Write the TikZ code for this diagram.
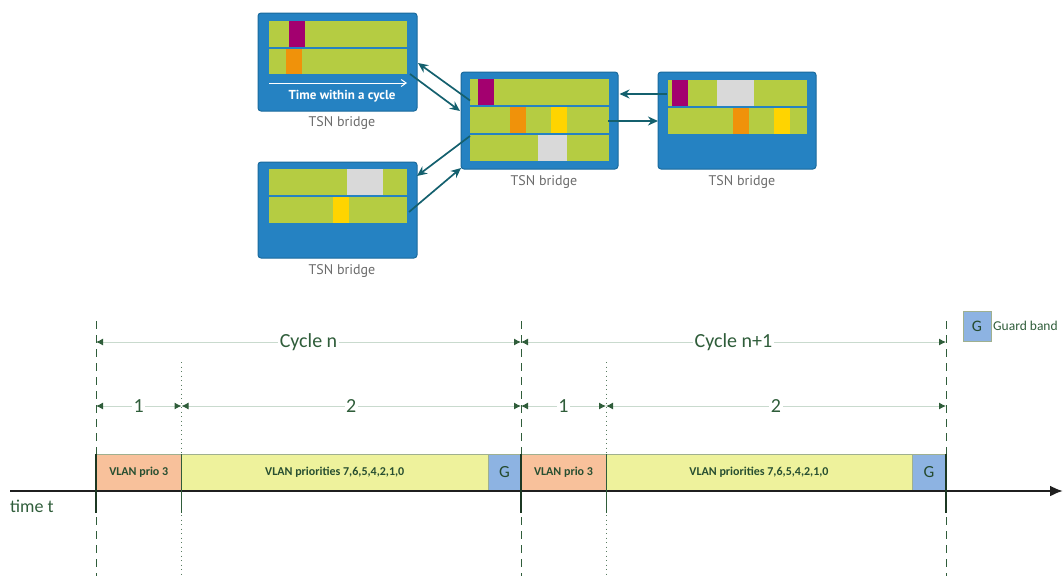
\documentclass[tikz,border=0pt]{standalone}
\usepackage{fontspec}
\setmainfont{Carlito}
\newfontfamily\ptsans{PT Sans}
\usetikzlibrary{arrows.meta}
\definecolor{boxblue}{HTML}{2582C2}
\definecolor{boxedge}{HTML}{1A6A9C}
\definecolor{slotgreen}{HTML}{B5CC42}
\definecolor{slotmag}{HTML}{A3006F}
\definecolor{slotorange}{HTML}{F0920A}
\definecolor{slotyellow}{HTML}{FFD400}
\definecolor{slotgrey}{HTML}{D9D9D9}
\definecolor{linkteal}{HTML}{14606E}
\definecolor{labelgrey}{HTML}{6B6B6B}
\definecolor{dkgreen}{HTML}{2F5D3A}
\definecolor{dimpale}{HTML}{C9DACE}
\definecolor{prioorange}{HTML}{F8C19B}
\definecolor{prioyellow}{HTML}{EEF29C}
\definecolor{guardblue}{HTML}{8DB3E2}
\definecolor{baredge}{HTML}{9FB08F}
\tikzset{
  bridge/.style={draw=boxedge, line width=1pt, fill=boxblue, rounded corners=3pt, inner sep=0pt},
  bridgelabel/.style={font=\ptsans\fontsize{14}{16}\selectfont, text=labelgrey, inner sep=0pt},
  link/.style={draw=linkteal, line width=1.7pt, -{Stealth[length=10pt,width=9pt]}},
  cyclediv/.style={draw=dkgreen, line width=1pt, dash pattern=on 8pt off 6pt},
  phasediv/.style={draw=dkgreen!80, line width=0.9pt, dash pattern=on 1pt off 3.5pt},
  tick/.style={draw=dkgreen!60!black, line width=1.4pt},
  thintick/.style={draw=dkgreen, line width=0.8pt},
  dim/.style={draw=dimpale, line width=1pt,
    {Latex[length=7pt,width=7pt,color=dkgreen]}-{Latex[length=7pt,width=7pt,color=dkgreen]}},
  dimlabel/.style={fill=white, inner sep=1.5pt, text=dkgreen, font=\fontsize{20}{24}\selectfont},
  bar/.style={draw=baredge, line width=0.6pt, inner sep=0pt},
  bartext/.style={text=dkgreen!85!black, font=\bfseries\fontsize{12}{14}\selectfont},
  gtext/.style={text=dkgreen!80!black, font=\fontsize{17}{20}\selectfont}
}
\begin{document}
\begin{tikzpicture}[x=1pt, y=-1pt]
\useasboundingbox (0,0) rectangle (1063,576);

% ---------------- bridges ----------------
\node[bridge, minimum width=159pt, minimum height=98pt] (A) at (337.5,62) {};
\node[bridge, minimum width=159pt, minimum height=96pt] (B) at (337.5,210) {};
\node[bridge, minimum width=157pt, minimum height=97pt] (C) at (539.5,120.5) {};
\node[bridge, minimum width=158pt, minimum height=97pt] (D) at (737,120.5) {};

% gate schedules of bridge A
\fill[slotgreen] (269,21) rectangle (407,47);
\fill[slotgreen] (269,49) rectangle (407,74);
\fill[slotmag] (289,21) rectangle (305,47);
\fill[slotorange] (286,49) rectangle (302,74);
\coordinate (tA) at (269,83);
\coordinate (tB) at (407,83);
\draw[white, line width=1pt, -{Straight Barb[length=5pt,width=7pt]}] (tA) -- (tB);
\node[font=\ptsans\bfseries\fontsize{13}{15}\selectfont, text=white] (ttext) at (342,96.5) {Time within a cycle};

% gate schedules of bridge B
\fill[slotgreen] (269,169) rectangle (407,195);
\fill[slotgreen] (269,197) rectangle (407,223);
\fill[slotgrey] (347,169) rectangle (383,195);
\fill[slotyellow] (333,197) rectangle (349,223);

% gate schedules of bridge C
\fill[slotgreen] (470,79) rectangle (609,105);
\fill[slotgreen] (470,107) rectangle (609,133);
\fill[slotgreen] (470,135) rectangle (609,161);
\fill[slotmag] (478,79) rectangle (494,105);
\fill[slotorange] (510,107) rectangle (526,133);
\fill[slotyellow] (551,107) rectangle (567,133);
\fill[slotgrey] (538,135) rectangle (567,161);

% gate schedules of bridge D
\fill[slotgreen] (668,80) rectangle (807,106);
\fill[slotgreen] (668,108) rectangle (807,134);
\fill[slotmag] (672,80) rectangle (688,106);
\fill[slotgrey] (717,80) rectangle (754,106);
\fill[slotorange] (733,108) rectangle (749,134);
\fill[slotyellow] (774,108) rectangle (790,134);

% captions
\node[bridgelabel] (lA) at (342,123) {TSN bridge};
\node[bridgelabel] (lB) at (342,271) {TSN bridge};
\node[bridgelabel] (lC) at (544,181.5) {TSN bridge};
\node[bridgelabel] (lD) at (742,182) {TSN bridge};

% links between bridges
\coordinate (cA1) at (470,100.5);
\coordinate (aA1) at (418,63);
\coordinate (aA2) at (410,74);
\coordinate (cA2) at (460,111);
\coordinate (cB1) at (470,136);
\coordinate (bB1) at (417,176);
\coordinate (bB2) at (409,212);
\coordinate (cB2) at (461,168);
\coordinate (dC1) at (667,94);
\coordinate (cD1) at (619.5,94);
\coordinate (cD2) at (608,121);
\coordinate (dC2) at (658,121);
\draw[link] (cA1) -- (aA1);
\draw[link] (aA2) -- (cA2);
\draw[link] (cB1) -- (bB1);
\draw[link] (bB2) -- (cB2);
\draw[link] (dC1) -- (cD1);
\draw[link] (cD2) -- (dC2);

% ---------------- cycle timeline ----------------
% cycle boundaries and phase boundaries
\coordinate (k0t) at (96,321);   \coordinate (k0b) at (96,576);
\coordinate (k1t) at (521,321);  \coordinate (k1b) at (521,576);
\coordinate (k2t) at (946,321);  \coordinate (k2b) at (946,576);
\coordinate (p0t) at (181.5,362); \coordinate (p0b) at (181.5,576);
\coordinate (p1t) at (606,362);   \coordinate (p1b) at (606,576);
\draw[cyclediv] (k0t) -- (k0b);
\draw[cyclediv] (k1t) -- (k1b);
\draw[cyclediv] (k2t) -- (k2b);
\draw[phasediv] (p0t) -- (p0b);
\draw[phasediv] (p1t) -- (p1b);

% time slots
\node[bar, fill=prioorange, minimum width=85.5pt, minimum height=37pt] (s1) at (138.75,472.5) {};
\node[bar, fill=prioyellow, minimum width=306.5pt, minimum height=37pt] (s2) at (334.75,472.5) {};
\node[bar, fill=guardblue, minimum width=33pt, minimum height=37pt] (s3) at (504.5,472.5) {};
\node[bar, fill=prioorange, minimum width=85pt, minimum height=37pt] (s4) at (563.5,472.5) {};
\node[bar, fill=prioyellow, minimum width=306pt, minimum height=37pt] (s5) at (759,472.5) {};
\node[bar, fill=guardblue, minimum width=34pt, minimum height=37pt] (s6) at (929,472.5) {};
\node[bartext] at (s1) {VLAN prio 3};
\node[bartext] at (s2) {VLAN priorities 7,6,5,4,2,1,0};
\node[gtext] at (s3) {G};
\node[bartext] at (s4) {VLAN prio 3};
\node[bartext] at (s5) {VLAN priorities 7,6,5,4,2,1,0};
\node[gtext] at (s6) {G};

% time axis
\coordinate (ax0) at (10,491);
\coordinate (ax1) at (1063,491);
\draw[draw=black!88, line width=2.2pt, -{Latex[length=13pt,width=11pt]}] (ax0) -- (ax1);
\node[anchor=west, inner sep=0pt, text=dkgreen, font=\fontsize{18}{21}\selectfont] (tt) at (10,506) {time t};

% ticks on the axis
\coordinate (q0a) at (96,454);   \coordinate (q0b) at (96,513);
\coordinate (q1a) at (521,454);  \coordinate (q1b) at (521,513);
\coordinate (q2a) at (946,454);  \coordinate (q2b) at (946,513);
\coordinate (r0a) at (181.5,454); \coordinate (r0b) at (181.5,513);
\coordinate (r1a) at (606,454);   \coordinate (r1b) at (606,513);
\draw[tick] (q0a) -- (q0b);
\draw[tick] (q1a) -- (q1b);
\draw[tick] (q2a) -- (q2b);
\draw[thintick] (r0a) -- (r0b);
\draw[thintick] (r1a) -- (r1b);

% dimension lines
\coordinate (c0) at (96,342);  \coordinate (c1) at (521,342);  \coordinate (c2) at (946,342);
\coordinate (d0) at (96,406);  \coordinate (d1) at (181.5,406); \coordinate (d2) at (521,406);
\coordinate (d3) at (606,406); \coordinate (d4) at (946,406);
\draw[dim] (c0) -- node[dimlabel] {Cycle n} (c1);
\draw[dim] (c1) -- node[dimlabel] {Cycle n+1} (c2);
\draw[dim] (d0) -- node[dimlabel] {1} (d1);
\draw[dim] (d1) -- node[dimlabel] {2} (d2);
\draw[dim] (d2) -- node[dimlabel] {1} (d3);
\draw[dim] (d3) -- node[dimlabel] {2} (d4);

% legend
\node[bar, fill=guardblue, minimum width=28pt, minimum height=30pt] (lg) at (977,326.5) {};
\node[gtext, font=\fontsize{16}{19}\selectfont] at (lg) {G};
\node[anchor=west, inner sep=0pt, text=dkgreen, font=\fontsize{13.5}{16}\selectfont] (lgt) at (993,326) {Guard band};
\end{tikzpicture}
\end{document}
